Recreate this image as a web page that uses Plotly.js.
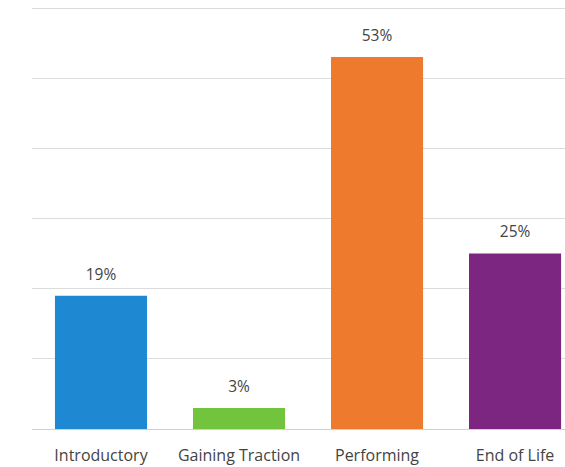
<!DOCTYPE html>
<html>
<head>
<meta charset="utf-8">
<script src="https://cdn.plot.ly/plotly-3.0.1.min.js"></script>
<style>html,body{margin:0;padding:0;background:#fff;}#chart{width:565px;height:467px;}</style>
</head>
<body>
<div id="chart"></div>
<script>
var categories = ["Introductory", "Gaining Traction", "Performing", "End of Life"];
var values = [19, 3, 53, 25];
var barColors = ["#1f88d3", "#72c43c", "#ee7a2e", "#7d2681"];
var valueLabels = values.map(function(v){ return v + "%"; });

var bars = {
  type: "bar",
  x: categories,
  y: values,
  marker: {color: barColors},
  hoverinfo: "skip"
};

var labels = {
  type: "scatter",
  mode: "markers+text",
  x: categories,
  y: values,
  text: valueLabels,
  textposition: "top center",
  marker: {size: 18, opacity: 0},
  cliponaxis: false,
  textfont: {family: "Open Sans", size: 15.5, color: "#444"},
  hoverinfo: "skip"
};

var layout = {
  width: 565,
  height: 467,
  margin: {l: 32, r: 0, t: 0, b: 38},
  paper_bgcolor: "#fff",
  plot_bgcolor: "#fff",
  bargap: 0.333,
  showlegend: false,
  xaxis: {
    range: [-0.5, 3.362],
    showgrid: false,
    zeroline: false,
    showline: false,
    ticks: "",
    ticklabelstandoff: 15,
    tickfont: {family: "Open Sans", size: 16, color: "#444"},
    fixedrange: true
  },
  yaxis: {
    range: [0, 61.14],
    dtick: 10,
    showgrid: true,
    gridcolor: "#dcdcdc",
    gridwidth: 1,
    zeroline: true,
    zerolinecolor: "#d0d0d0",
    zerolinewidth: 1,
    showticklabels: false,
    ticks: "",
    fixedrange: true
  }
};

Plotly.newPlot("chart", [bars, labels], layout, {staticPlot: true, displayModeBar: false});
</script>
</body>
</html>
